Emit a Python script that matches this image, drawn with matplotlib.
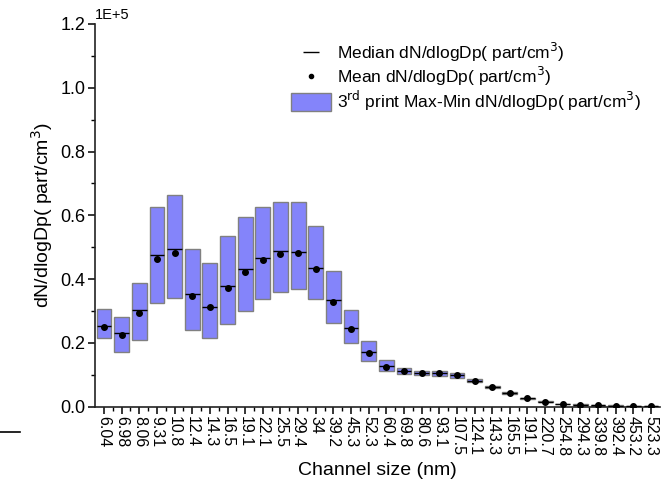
import matplotlib
matplotlib.use("Agg")
import matplotlib.pyplot as plt
from matplotlib.patches import Rectangle, Patch
from matplotlib.lines import Line2D
from matplotlib.ticker import MultipleLocator, FixedLocator

plt.rcParams['font.family'] = ['Liberation Sans', 'DejaVu Sans']

channels = ["6.04", "6.98", "8.06", "9.31", "10.8", "12.4", "14.3", "16.5", "19.1", "22.1",
            "25.5", "29.4", "34", "39.2", "45.3", "52.3", "60.4", "69.8", "80.6", "93.1",
            "107.5", "124.1", "143.3", "165.5", "191.1", "220.7", "254.8", "294.3", "339.8",
            "392.4", "453.2", "523.3"]

# values in units of 1E+5 part/cm^3
max_vals = [0.305, 0.282, 0.389, 0.627, 0.663, 0.493, 0.451, 0.535, 0.594, 0.625,
            0.642, 0.642, 0.567, 0.425, 0.303, 0.207, 0.146, 0.122, 0.113, 0.113,
            0.107, 0.086, 0.066, 0.045, 0.028, 0.018, 0.010, 0.007, 0.005, 0.004, 0.003, 0.003]
min_vals = [0.214, 0.172, 0.209, 0.326, 0.342, 0.240, 0.214, 0.259, 0.301, 0.337,
            0.359, 0.368, 0.337, 0.263, 0.199, 0.143, 0.112, 0.103, 0.098, 0.097,
            0.090, 0.078, 0.060, 0.039, 0.024, 0.014, 0.008, 0.005, 0.003, 0.002, 0.001, 0.001]
median_vals = [0.253, 0.232, 0.303, 0.476, 0.495, 0.354, 0.313, 0.378, 0.431, 0.466,
               0.489, 0.486, 0.436, 0.334, 0.247, 0.170, 0.128, 0.112, 0.106, 0.107,
               0.098, 0.082, 0.063, 0.042, 0.026, 0.016, 0.009, 0.006, 0.004, 0.003, 0.002, 0.002]
mean_vals = [0.251, 0.225, 0.295, 0.463, 0.481, 0.347, 0.312, 0.373, 0.423, 0.459,
             0.479, 0.481, 0.432, 0.329, 0.243, 0.168, 0.125, 0.112, 0.106, 0.107,
             0.098, 0.081, 0.062, 0.042, 0.026, 0.016, 0.009, 0.006, 0.004, 0.003, 0.002, 0.002]

box_face = '#8484fa'
box_edge = '#808080'
box_w = 0.84

fig = plt.figure(figsize=(6.69, 4.88), dpi=100)
ax = fig.add_axes([0.1423, 0.1666, 0.8440, 0.7844])

xs = list(range(1, len(channels) + 1))
for x, lo, hi in zip(xs, min_vals, max_vals):
    ax.add_patch(Rectangle((x - box_w / 2, lo), box_w, hi - lo,
                           facecolor=box_face, edgecolor=box_edge, linewidth=1.0, zorder=2))
ax.hlines(median_vals, [x - box_w / 2 for x in xs], [x + box_w / 2 for x in xs],
          colors='black', linewidth=1.0, zorder=3)
ax.plot(xs, mean_vals, 'o', color='black', markersize=4, linestyle='none', zorder=4)

ax.set_xlim(0.5, len(channels) + 0.5)
ax.set_ylim(0, 1.2)

ax.spines['top'].set_visible(False)
ax.spines['right'].set_visible(False)
for s in ('left', 'bottom'):
    ax.spines[s].set_linewidth(1.2)
    ax.spines[s].set_color('#222222')

ax.set_xticks(xs)
ax.set_xticklabels(channels, rotation=270, fontsize=11.5, va='top', ha='center')
ax.xaxis.set_minor_locator(FixedLocator([x + 0.5 for x in xs[:-1]]))
ax.yaxis.set_major_locator(MultipleLocator(0.2))
ax.yaxis.set_minor_locator(MultipleLocator(0.1))
ax.yaxis.set_major_formatter(matplotlib.ticker.FormatStrFormatter('%.1f'))
ax.tick_params(axis='y', which='major', direction='out', length=5, width=1.1, labelsize=13, pad=2)
ax.tick_params(axis='y', which='minor', direction='out', length=3, width=1.0)
ax.tick_params(axis='x', which='major', direction='out', length=5, width=1.1, pad=2)
ax.tick_params(axis='x', which='minor', direction='out', length=3, width=1.0)

ax.set_xlabel('Channel size (nm)', fontsize=14, labelpad=4)
ax.set_ylabel('dN/dlogDp( part/cm$^3$)', fontsize=14, labelpad=4)

ax.text(0.0, 1.005, '1E+5', transform=ax.transAxes, fontsize=10.5, ha='left', va='bottom')

handles = [
    Line2D([], [], color='black', marker='_', markersize=11, linestyle='none', markeredgewidth=1.0),
    Line2D([], [], color='black', marker='o', markersize=3, linestyle='none'),
    Patch(facecolor=box_face, edgecolor=box_edge, linewidth=1.0),
]
labels = ['Median dN/dlogDp( part/cm$^3$)', 'Mean dN/dlogDp( part/cm$^3$)',
          '3$^{\\mathrm{rd}}$ print Max-Min dN/dlogDp( part/cm$^3$)']
ax.legend(handles, labels, loc='upper right', bbox_to_anchor=(0.968, 0.93),
          bbox_transform=fig.transFigure, frameon=False, fontsize=12.5,
          handlelength=2.3, handleheight=1.2, handletextpad=0.35, labelspacing=0.05,
          borderaxespad=0)

fig.add_artist(Line2D([0.0, 0.03], [0.115, 0.115], transform=fig.transFigure,
                      color='black', linewidth=1.2))

fig.savefig('out.png', dpi=100)
